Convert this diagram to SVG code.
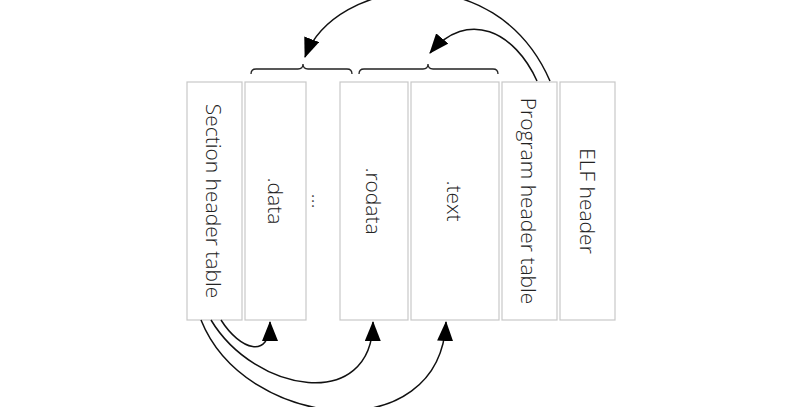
<svg xmlns="http://www.w3.org/2000/svg" width="800" height="407" viewBox="0 0 800 407">
<defs>
<style>
.box{fill:#fff;stroke:#c8c8c8;stroke-width:1.2}
.lbl{font-family:"Open Sans","Liberation Sans",sans-serif;font-size:21px;font-weight:300;fill:#222;text-anchor:middle;dominant-baseline:central}
.con{fill:none;stroke:#111;stroke-width:1.5}
.brace{fill:none;stroke:#222;stroke-width:1.3}
</style>
<marker id="ah" viewBox="0 0 20 16" refX="19" refY="8" markerWidth="20" markerHeight="16" markerUnits="userSpaceOnUse" orient="auto">
<path d="M0,0 L20,8 L0,16 Z" fill="#000"/>
</marker>
</defs>
<rect width="800" height="407" fill="#fff"/>
<g id="section-header-table">
<rect class="box" x="187" y="82" width="55" height="238"/>
<text class="lbl" transform="translate(213.5,201) rotate(90)">Section header table</text>
</g>
<g id="data">
<rect class="box" x="245" y="82" width="61" height="238"/>
<text class="lbl" transform="translate(275.5,201) rotate(90)">.data</text>
</g>
<g id="ellipsis">
<text class="lbl" transform="translate(320,201) rotate(90)">...</text>
</g>
<g id="rodata">
<rect class="box" x="340" y="82" width="68" height="238"/>
<text class="lbl" transform="translate(374,201) rotate(90)">.rodata</text>
</g>
<g id="text">
<rect class="box" x="411" y="82" width="88" height="238"/>
<text class="lbl" transform="translate(455,201) rotate(90)">.text</text>
</g>
<g id="program-header-table">
<rect class="box" x="502" y="82" width="55" height="238"/>
<text class="lbl" transform="translate(529,201) rotate(90)">Program header table</text>
</g>
<g id="elf-header">
<rect class="box" x="560" y="82" width="55" height="238"/>
<text class="lbl" transform="translate(587.5,201) rotate(90)">ELF header</text>
</g>
<g id="braces">
<path class="brace" d="M251,74 Q251,69 256,69 L298,69 Q303,69 303,64 Q303,69 308,69 L347,69 Q352,69 352,74"/>
<path class="brace" d="M359,74 Q359,69 364,69 L423,69 Q428,69 428,64 Q428,69 433,69 L493,69 Q498,69 498,74"/>
</g>
<g id="connectors">
<path class="con" d="M550,81 C495,-45 335,-22 305,57" marker-end="url(#ah)"/>
<path class="con" d="M537,81 C515,32 468,8 430,53" marker-end="url(#ah)"/>
<path class="con" d="M221,320 C240,350 270,360 270,322" marker-end="url(#ah)"/>
<path class="con" d="M211,320 C255,393 372,413 373,322" marker-end="url(#ah)"/>
<path class="con" d="M201,320 C245,430 440,450 446,322" marker-end="url(#ah)"/>
</g>
</svg>
